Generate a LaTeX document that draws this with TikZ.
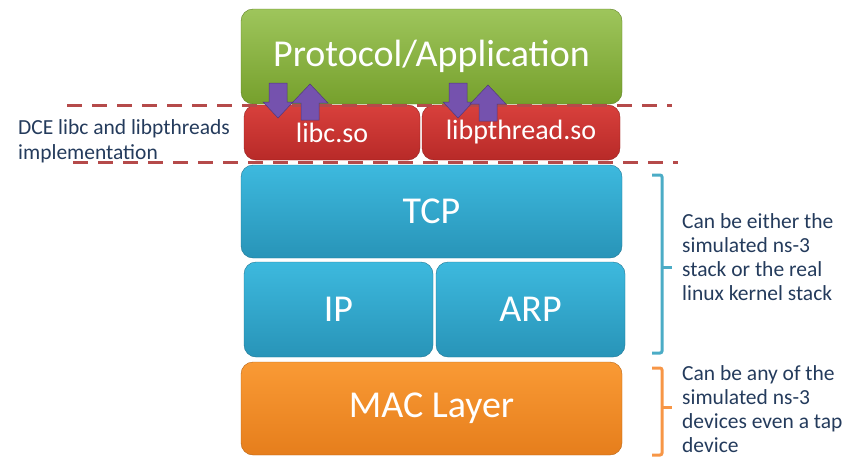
\documentclass[tikz,border=0pt]{standalone}
\usepackage{fontspec}
\setmainfont{Carlito}
\usepackage{xcolor}
\definecolor{appgreen}{HTML}{8DBB3F}
\definecolor{appgreendk}{HTML}{76A02C}
\definecolor{libred}{HTML}{D8403C}
\definecolor{libreddk}{HTML}{B82A28}
\definecolor{stackblue}{HTML}{3DB9DE}
\definecolor{stackbluedk}{HTML}{2894B8}
\definecolor{macorange}{HTML}{F99A35}
\definecolor{macorangedk}{HTML}{E67E1C}
\definecolor{dashred}{HTML}{B54A4A}
\definecolor{arrowpurple}{HTML}{7552AE}
\definecolor{notetext}{HTML}{243B5C}
\definecolor{braceblue}{HTML}{4BACC6}
\definecolor{braceorange}{HTML}{F79646}
\tikzset{>=latex}

% block arrows, placed by their top centre
\newcommand{\callarrow}[1]{\fill[arrowpurple, draw=arrowpurple!70!black, line width=0.5pt, shift={(#1)}]
  (-9,0) -- (9,0) -- (9,19) -- (15,19) -- (0,35) -- (-15,19) -- (-9,19) -- cycle;}
\newcommand{\retarrow}[1]{\fill[arrowpurple, draw=arrowpurple!70!black, line width=0.5pt, shift={(#1)}]
  (0,0) -- (18,19) -- (9,19) -- (9,36) -- (-9,36) -- (-9,19) -- (-18,19) -- cycle;}

\begin{document}
\begin{tikzpicture}[x=1pt, y=-1pt,
    layer/.style={rectangle, rounded corners=12pt, anchor=north west, inner sep=0pt, outer sep=0pt,
                  text=white, font=\fontsize{38}{44}\selectfont},
    green layer/.style={layer, top color=appgreen!85!white, bottom color=appgreendk, draw=appgreendk!80!black},
    red layer/.style={layer, top color=libred, bottom color=libreddk, draw=libreddk!80!black,
                      font=\fontsize{28}{32}\selectfont},
    blue layer/.style={layer, top color=stackblue, bottom color=stackbluedk, draw=stackbluedk!80!black},
    orange layer/.style={layer, top color=macorange, bottom color=macorangedk, draw=macorangedk!80!black},
    dashline/.style={dashred, line width=3pt, dash pattern=on 15pt off 10pt},
    bracket/.style={line width=3pt, rounded corners=2pt},
    note/.style={anchor=north west, align=left, inner sep=0pt, text=notetext,
                 font=\fontsize{21.5}{24}\selectfont}]
    \useasboundingbox (0,0) rectangle (851,458);

    % Layers
    \node (App) [green layer, minimum width=381pt, minimum height=95pt] at (241,9) {Protocol/Application};
    \node (Libc) [red layer, minimum width=176pt, minimum height=55pt] at (244,105) {libc.so};
    \node (Pthread) [red layer, minimum width=198pt, minimum height=55pt] at (422,105) {libpthread.so};
    \node (TCP) [blue layer, minimum width=381pt, minimum height=93pt] at (241,165) {TCP};
    \node (IP) [blue layer, minimum width=189pt, minimum height=95pt] at (244,262) {IP};
    \node (ARP) [blue layer, minimum width=189pt, minimum height=95pt] at (436,262) {ARP};
    \node (MAC) [orange layer, minimum width=381pt, minimum height=93pt] at (241,362) {MAC Layer};

    % DCE boundary
    \draw[dashline] (67,105) -- (672,105);
    \draw[dashline] (73,162) -- (678,162);

    % Calls and returns
    \callarrow{278,83}
    \retarrow{310,84}
    \callarrow{458,83}
    \retarrow{488,85}

    % Brackets
    \draw[bracket, braceblue] (652,175) -- (662,175) -- (662,353) -- (652,353);
    \draw[braceblue, line width=3pt] (662,267) -- (672,267);
    \draw[bracket, braceorange] (652,368) -- (662,368) -- (662,455) -- (652,455);
    \draw[braceorange, line width=3pt] (662,407) -- (672,407);

    % Notes
    \node (DCE) [note, font=\fontsize{21.5}{25}\selectfont] at (18,119) {DCE libc and libpthreads\\implementation};
    \node (StackNote) [note] at (682,213) {Can be either the\\simulated ns-3\\stack or the real\\linux kernel stack};
    \node (DevNote) [note] at (682,365) {Can be any of the\\simulated ns-3\\devices even a tap\\device};
\end{tikzpicture}
\end{document}
